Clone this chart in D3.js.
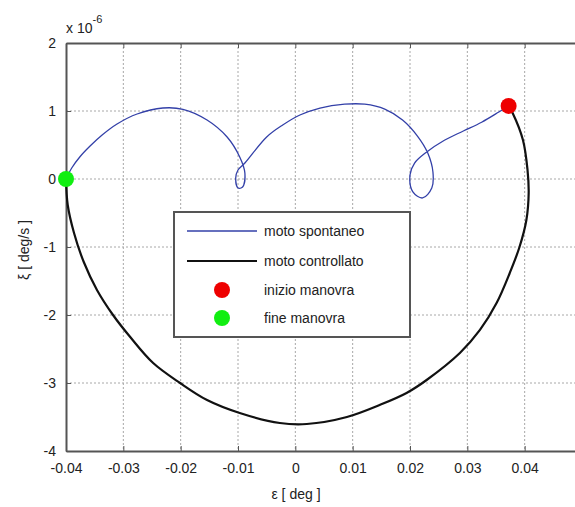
<!DOCTYPE html>
<html><head><meta charset="utf-8">
<script src="https://cdn.jsdelivr.net/npm/d3@7/dist/d3.min.js"></script>
<style>body{margin:0;background:#fff}svg{display:block}</style>
</head><body>
<script>
// data (eps in deg, xi in 1e-6 deg/s)
const spontEps = [-0.0400,-0.0390,-0.0376,-0.0358,-0.0337,-0.0311,-0.0276,-0.0231,-0.0196,-0.0154,-0.0119,-0.0097,-0.0088,-0.0092,-0.0100,-0.0104,-0.0100,-0.0088,-0.0050,-0.0022,0.0008,0.0043,0.0086,0.0121,0.0156,0.0187,0.0213,0.0231,0.0240,0.0238,0.0222,0.0205,0.0200,0.0208,0.0228,0.0260,0.0293,0.0325,0.0355,0.0372];
const spontXi  = [0,0.162,0.324,0.485,0.647,0.809,0.956,1.044,1.025,0.868,0.618,0.324,0.088,-0.118,-0.132,0.015,0.132,0.235,0.618,0.794,0.941,1.044,1.100,1.100,1.029,0.868,0.632,0.382,0.103,-0.132,-0.279,-0.191,0.059,0.235,0.390,0.570,0.706,0.835,0.985,1.074];
const ctrlEps = [0.0372,0.0379,0.0397,0.0405,0.0407,0.0403,0.0391,0.0374,0.0351,0.0322,0.0287,0.0229,0.0194,0.0147,0.0090,0.0020,-0.0027,-0.0097,-0.0154,-0.0201,-0.0248,-0.0288,-0.0318,-0.0346,-0.0369,-0.0386,-0.0397,-0.0400];
const ctrlXi  = [1.074,0.971,0.574,0.132,-0.206,-0.603,-1.0,-1.382,-1.824,-2.220,-2.559,-2.956,-3.147,-3.324,-3.5,-3.603,-3.588,-3.441,-3.25,-3.0,-2.706,-2.324,-2.0,-1.632,-1.221,-0.794,-0.382,0];
const startPt = [0.0372, 1.074];
const endPt = [-0.0400, 0];
const xTicks = [-0.04,-0.03,-0.02,-0.01,0,0.01,0.02,0.03,0.04];
const xTickLabels = ["-0.04","-0.03","-0.02","-0.01","0","0.01","0.02","0.03","0.04"];
const yTicks = [-4,-3,-2,-1,0,1,2];
const yTickLabels = ["-4","-3","-2","-1","0","1","2"];
const legendLabels = ["moto spontaneo","moto controllato","inizio manovra","fine manovra"];

const W = 575, H = 507;
const L = 66, T = 43, R = 582, B = 451;
const svg = d3.select("body").append("svg").attr("width", W).attr("height", H)
  .style("font-family","'Liberation Sans', Arial, sans-serif");
const x = d3.scaleLinear().domain([-0.04, 0.05]).range([L, R]);
const y = d3.scaleLinear().domain([-4, 2]).range([B, T]);

// grid
const g = svg.append("g");
g.selectAll(".vg").data(xTicks.filter(v => v > -0.04)).join("line")
  .attr("x1", d => x(d)).attr("x2", d => x(d)).attr("y1", T).attr("y2", B)
  .attr("stroke", "#a8a8a8").attr("stroke-dasharray", "2,2").attr("stroke-width", 1);
g.selectAll(".hg").data(yTicks.filter(v => v > -4 && v < 2)).join("line")
  .attr("x1", L).attr("x2", R).attr("y1", d => y(d)).attr("y2", d => y(d))
  .attr("stroke", "#a8a8a8").attr("stroke-dasharray", "2,2").attr("stroke-width", 1);

// axes
const ax = svg.append("g").attr("transform", `translate(0,${B})`)
  .call(d3.axisBottom(x).tickValues(xTicks).tickFormat((d,i) => xTickLabels[i]).tickSizeInner(-5).tickSizeOuter(0).tickPadding(12));
const axTop = svg.append("g").attr("transform", `translate(0,${T})`)
  .call(d3.axisTop(x).tickValues(xTicks).tickFormat("").tickSizeInner(-5).tickSizeOuter(0));
const ay = svg.append("g").attr("transform", `translate(${L},0)`)
  .call(d3.axisLeft(y).tickValues(yTicks).tickFormat((d,i) => yTickLabels[i]).tickSizeInner(-5).tickSizeOuter(0).tickPadding(10));
[ax, axTop, ay].forEach(a => {
  a.select(".domain").attr("stroke", "#555").attr("stroke-width", 2);
  a.selectAll(".tick line").attr("stroke", "#555");
  a.selectAll("text").attr("fill", "#222").style("font-size", "14px");
});

// curves
const line = d3.line().x(d => x(d[0])).y(d => y(d[1])).curve(d3.curveCatmullRom.alpha(0.5));
const sp = spontEps.map((v,i) => [v, spontXi[i]]);
const cp = ctrlEps.map((v,i) => [v, ctrlXi[i]]);
svg.append("path").attr("d", line(sp)).attr("fill","none").attr("stroke","#3340a8").attr("stroke-width",1.3);
svg.append("path").attr("d", line(cp)).attr("fill","none").attr("stroke","#111").attr("stroke-width",2.2);
svg.append("circle").attr("cx", x(startPt[0])).attr("cy", y(startPt[1])).attr("r", 8).attr("fill", "#ee0000");
svg.append("circle").attr("cx", x(endPt[0])).attr("cy", y(endPt[1])).attr("r", 8).attr("fill", "#11ee11");

// exponent
const ex = svg.append("text").attr("x", 66).attr("y", 33).attr("fill","#222").style("font-size","14px");
ex.append("tspan").text("x 10");
ex.append("tspan").attr("dy", -10).style("font-size","11px").text("-6");

// axis titles
svg.append("text").attr("x", 296).attr("y", 499).attr("text-anchor","middle").attr("fill","#222").style("font-size","14px").text("ε [ deg ]");
svg.append("text").attr("transform","translate(29,250) rotate(-90)").attr("text-anchor","middle").attr("fill","#222").style("font-size","14px").text("ξ [ deg/s ]");

// legend
const lg = svg.append("g");
lg.append("rect").attr("x", 174).attr("y", 212).attr("width", 236).attr("height", 125)
  .attr("fill","#fff").attr("stroke","#555").attr("stroke-width",2);
const rows = [231, 261, 290, 318];
lg.append("line").attr("x1",187).attr("x2",257).attr("y1",rows[0]).attr("y2",rows[0]).attr("stroke","#3340a8").attr("stroke-width",1.3);
lg.append("line").attr("x1",187).attr("x2",257).attr("y1",rows[1]).attr("y2",rows[1]).attr("stroke","#111").attr("stroke-width",2.2);
lg.append("circle").attr("cx",222).attr("cy",rows[2]).attr("r",8).attr("fill","#ee0000");
lg.append("circle").attr("cx",222).attr("cy",rows[3]).attr("r",8).attr("fill","#11ee11");
lg.selectAll("text.l").data(legendLabels).join("text")
  .attr("x", 264).attr("y", (d,i) => rows[i] + 5).attr("fill","#222").style("font-size","14px").text(d => d);
</script>
</body></html>
